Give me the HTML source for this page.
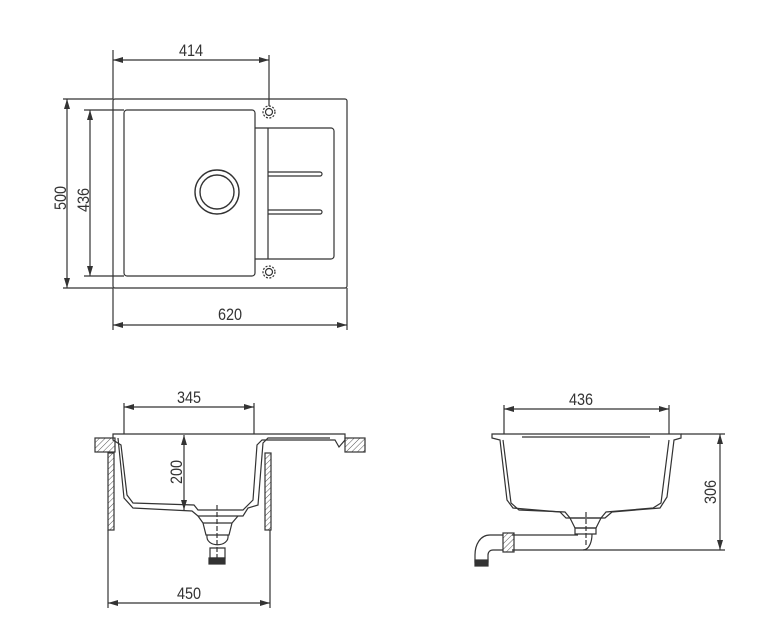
<!DOCTYPE html>
<html><head><style>body{margin:0;background:#fff}svg{display:block}text{font-family:"Liberation Sans",sans-serif;font-size:17px;fill:#333}</style></head><body>
<svg width="764" height="632" viewBox="0 0 764 632" xmlns="http://www.w3.org/2000/svg">
<defs>
<marker id="a" viewBox="0 0 10 6" refX="10" refY="3" markerWidth="10" markerHeight="6" orient="auto-start-reverse" markerUnits="userSpaceOnUse"><path d="M0,0L10,3L0,6z" fill="#333"/></marker>
<pattern id="h" width="4" height="4" patternUnits="userSpaceOnUse" patternTransform="rotate(45)"><line x1="0" y1="0" x2="0" y2="4" stroke="#555" stroke-width="1"/></pattern>
</defs>
<g stroke="#333" fill="none" stroke-width="1.2">
<rect x="113" y="99" width="234" height="189" rx="2"/>
<rect x="124" y="110" width="131" height="166" rx="3"/>
<path d="M255,128H331a3,3 0 0 1 3,3V256a3,3 0 0 1-3,3H255"/>
<line x1="268" y1="128" x2="268" y2="259"/>
<path d="M268,172H320a2,2 0 0 1 0,4H268M268,210H320a2,2 0 0 1 0,4H268"/>
<circle cx="217" cy="192" r="22" stroke-width="1.4"/><circle cx="217" cy="192" r="17" stroke-width="1.4"/>
<circle cx="269" cy="112" r="6" stroke-dasharray="2,1.5"/><circle cx="269" cy="112" r="3.5"/>
<circle cx="269" cy="272" r="6" stroke-dasharray="2,1.5"/><circle cx="269" cy="272" r="3.5"/>
<line x1="113" y1="50" x2="113" y2="99"/><line x1="269" y1="55" x2="269" y2="106"/>
<line x1="113" y1="60" x2="269" y2="60" marker-start="url(#a)" marker-end="url(#a)"/>
<line x1="63" y1="99" x2="113" y2="99"/><line x1="63" y1="288" x2="113" y2="288"/>
<line x1="67" y1="99" x2="67" y2="288" marker-start="url(#a)" marker-end="url(#a)"/>
<line x1="84" y1="110" x2="124" y2="110"/><line x1="84" y1="276" x2="124" y2="276"/>
<line x1="90" y1="110" x2="90" y2="276" marker-start="url(#a)" marker-end="url(#a)"/>
<line x1="113" y1="288" x2="113" y2="330"/><line x1="347" y1="288" x2="347" y2="330"/>
<line x1="113" y1="325" x2="347" y2="325" marker-start="url(#a)" marker-end="url(#a)"/>
<rect x="95" y="438" width="20" height="14" fill="url(#h)"/>
<rect x="345" y="438" width="20" height="14" fill="url(#h)"/>
<rect x="108" y="453" width="6" height="77" fill="url(#h)"/>
<rect x="265" y="453" width="6" height="77" fill="url(#h)"/>
<path d="M113,434H345V440L339,447L335,440H262L257,445L253,500L243,510H198L194,505L133,503L127,495L121,445L113,440Z"/>
<path d="M118,438L124,498L133,508L192,511L198,516H243L248,508L258,505L263,443L268,438H330"/>
<path d="M198,516L203,523H232L238,516M203,523L206,535H229L232,523"/>
<path d="M207,535C205,548 230,548 228,535M210,548H225V558H210Z" />
<rect x="209" y="558" width="16" height="6" fill="#333"/>
<line x1="217" y1="505" x2="217" y2="560" stroke-dasharray="5,2"/>
<line x1="124" y1="403" x2="124" y2="434"/><line x1="254" y1="403" x2="254" y2="434"/>
<line x1="124" y1="407" x2="254" y2="407" marker-start="url(#a)" marker-end="url(#a)"/>
<line x1="184" y1="435" x2="184" y2="510" marker-start="url(#a)" marker-end="url(#a)"/>
<line x1="108" y1="530" x2="108" y2="608"/><line x1="270" y1="530" x2="270" y2="608"/>
<line x1="108" y1="603" x2="270" y2="603" marker-start="url(#a)" marker-end="url(#a)"/>
<path d="M492,434H681V438L674,440L667,497L660,508L612,512L605,518H566L560,512L513,508L507,500L500,440L492,438Z"/>
<path d="M503,440L511,503L519,510L565,512L570,518H601L606,512L653,508L661,503L669,440"/>
<line x1="522" y1="437" x2="650" y2="437"/>
<path d="M570,518L575,528H596L601,518"/>
<path d="M575,528H596V534H575Z"/>
<line x1="586" y1="512" x2="586" y2="545" stroke-dasharray="5,2"/>
<path d="M512,535H578M512,550H583C590,550 592,540 592,534"/>
<rect x="503" y="533" width="11" height="19" fill="url(#h)"/>
<path d="M503,535H490C480,535 475,545 475,555V562H488V555C488,552 490,550 493,550H503"/>
<rect x="475" y="560" width="13" height="6" fill="#333"/>
<line x1="504" y1="405" x2="504" y2="434"/><line x1="669" y1="405" x2="669" y2="434"/>
<line x1="504" y1="409" x2="669" y2="409" marker-start="url(#a)" marker-end="url(#a)"/>
<line x1="681" y1="434" x2="725" y2="434"/><line x1="583" y1="550" x2="725" y2="550"/>
<line x1="720" y1="434" x2="720" y2="550" marker-start="url(#a)" marker-end="url(#a)"/>
</g>
<g>
<text transform="translate(191,56) scale(0.85,1)" text-anchor="middle">414</text>
<text transform="translate(230,320) scale(0.85,1)" text-anchor="middle">620</text>
<text transform="translate(66,198) rotate(-90) scale(0.85,1)" text-anchor="middle">500</text>
<text transform="translate(89,200) rotate(-90) scale(0.85,1)" text-anchor="middle">436</text>
<text transform="translate(189,403) scale(0.85,1)" text-anchor="middle">345</text>
<text transform="translate(182,472) rotate(-90) scale(0.85,1)" text-anchor="middle">200</text>
<text transform="translate(189,599) scale(0.85,1)" text-anchor="middle">450</text>
<text transform="translate(581,405) scale(0.85,1)" text-anchor="middle">436</text>
<text transform="translate(716,492) rotate(-90) scale(0.85,1)" text-anchor="middle">306</text>
</g>
</svg>
</body></html>
